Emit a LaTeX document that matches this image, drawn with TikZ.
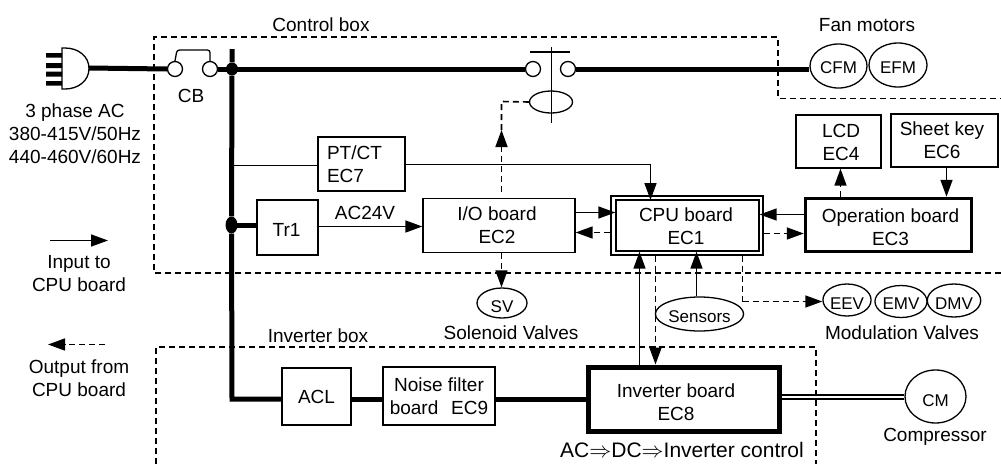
\documentclass[tikz,border=0pt]{standalone}
\usepackage{fontspec}
\setmainfont{Liberation Sans}
\usetikzlibrary{arrows.meta,shapes.geometric,calc}
\newcommand{\lbl}{\fontsize{19}{23}\selectfont}
\newcommand{\sml}{\fontsize{17}{20}\selectfont}
\newcommand{\dn}[1]{\rule{0pt}{\dimexpr 14pt+#1\relax}}
\newcommand{\dnn}[1]{\rule{0pt}{\dimexpr 12.2pt+#1\relax}}
\tikzset{
  boxn/.style={draw,line width=1.3pt,inner sep=0pt,align=center,font=\lbl,minimum width=#1},
  thickbox/.style={line width=#1},
  txt/.style={inner sep=0pt,align=center,font=\lbl},
  oval/.style={draw,ellipse,line width=1.3pt,inner sep=0pt,font=\sml},
  contact/.style={draw,circle,line width=1.3pt,minimum size=15pt,inner sep=0pt,fill=white},
  jdot/.style={draw=none,fill=black,ellipse,inner sep=0pt},
  power/.style={line width=5pt},
  thin line/.style={line width=1.6pt},
  tipp/.style={-{Triangle[length=17pt,width=12pt]}},
  inp/.style={line width=1.6pt,tipp},
  outp/.style={line width=1.6pt,dash pattern=on 6pt off 4pt,tipp},
  ctl/.style={line width=1.6pt,dash pattern=on 6pt off 4pt},
  boxline/.style={line width=1.2pt,dash pattern=on 6pt off 4pt},
}
\begin{document}
\begin{tikzpicture}[x=1pt,y=-1pt]
\useasboundingbox (0,0) rectangle (1001,464);
% enclosures
\draw[boxline] (1001,273) -- (154,273) -- (154,37) -- (778,37) -- (778,98.5) -- (1001,98.5);
\draw[boxline] (156,464) -- (156,347) -- (816,347) -- (816,464);
\node[txt] (tcontrol) at (321,25) {Control box};
\node[txt] (tinverter) at (318,336) {Inverter box};
\node[txt] (tfan) at (867,25) {Fan motors};
% plug
\fill (46,53) rectangle (62,57.5) (46,63) rectangle (62,68) (46,71.5) rectangle (62,76.5) (46,81) rectangle (62,85.5);
\draw[line width=1.3pt] (62,48) -- (65,48) .. controls (78,48) and (89,56) .. (89,68.5) .. controls (89,81) and (78,89) .. (65,89) -- (62,89) -- cycle;
\coordinate (plugtip) at (89,68);
\node[txt] (tplug) at (75,134) {3 phase AC\\380-415V/50Hz\\440-460V/60Hz};
% breaker
\node[contact] (cbl) at (175,69) {};
\node[contact] (cbr) at (210,69) {};
\draw[line width=1.3pt,rounded corners=2.5pt] (cbl.north) -- (177,50) -- (210,50) -- (cbr.north);
\node[txt] (tcb) at (191,96) {CB};
% bus
\node[jdot,minimum width=12pt,minimum height=13pt] (j1) at (232,69) {};
\node[jdot,minimum width=12pt,minimum height=17pt] (j2) at (231.5,225) {};
\coordinate (bustop) at (232,49);
\coordinate (buscorner) at (232,399);
% contactor
\node[contact] (mcl) at (533,69) {};
\node[contact] (mcr) at (568,69) {};
\draw[line width=2.5pt] (530,52) -- (570,52);
\node[draw,ellipse,line width=1.3pt,minimum width=43pt,minimum height=22pt,inner sep=0pt] (coil) at (551,102) {};
\draw[thin line] (551.5,47) -- (551.5,123);
% fans
\node[oval,minimum width=57pt,minimum height=44pt] (cfm) at (838.5,66) {\dnn{2pt}CFM};
\node[oval,minimum width=58pt,minimum height=44pt] (efm) at (898,65) {\dnn{4pt}EFM};
% boxes
\node[boxn=87pt,minimum height=54pt] (ptct) at (361.5,164) {\hspace*{-14pt}PT/CT\\\hspace*{-32pt}EC7};
\node[boxn=61pt,minimum height=55pt] (tr) at (287.5,227.5) {\hspace*{-2pt}\dn{3pt}Tr1};
\node[boxn=152pt,minimum height=54pt] (io) at (499,225.5) {\hspace*{-4pt}I/O board\\\hspace*{-4pt}EC2};
\node[draw,line width=1.4pt,minimum width=152pt,minimum height=59pt,inner sep=0pt] (cpuo) at (687,225.5) {};
\node[boxn=143pt,minimum height=51pt,line width=1.4pt] (cpu) at (687.5,225.5) {\hspace*{-3pt}\dn{1pt}CPU board\\\hspace*{-3pt}EC1};
\node[boxn=166pt,minimum height=53pt,thickbox=3.5pt] (op) at (888.5,225) {\hspace*{4pt}\dn{5pt}Operation board\\\hspace*{4pt}EC3};
\node[boxn=85pt,minimum height=53pt] (lcd) at (838.5,141.5) {\hspace*{5pt}\dn{2pt}LCD\\\hspace*{5pt}EC4};
\node[boxn=107pt,minimum height=53pt] (sheet) at (944.5,140.5) {\hspace*{-5pt}Sheet key\\\hspace*{-5pt}EC6};
\node[boxn=69pt,minimum height=57pt] (acl) at (316.5,396.5) {ACL};
\node[boxn=112pt,minimum height=58pt] (noise) at (439,396) {Noise filter\\board\hspace{0.4em} EC9};
\node[boxn=191pt,minimum height=64pt,thickbox=5pt] (inv) at (683.5,399) {\hspace*{-15pt}\dn{6pt}Inverter board\\\hspace*{-15pt}EC8};
\node[txt,font=\fontsize{21}{25}\selectfont] (tac) at (682,450) {AC\scalebox{1.06}{$\Rightarrow$}DC\scalebox{1.06}{$\Rightarrow$}Inverter control};
\node[txt] (tac24) at (365,213) {AC24V};
% valves and sensors
\node[oval,minimum width=50pt,minimum height=30pt] (sv) at (502,303) {\dnn{7pt}SV};
\node[txt] (tsv) at (511,333) {Solenoid Valves};
\node[oval,minimum width=77pt,minimum height=34pt] (sens) at (699.5,314) {\dnn{4pt}Sensors};
\node[oval,minimum width=46pt,minimum height=32pt] (eev) at (847,300) {\dnn{6pt}EEV};
\node[oval,minimum width=46pt,minimum height=32pt] (emv) at (901,301.5) {\dnn{3pt}EMV};
\node[oval,minimum width=46pt,minimum height=33pt] (dmv) at (954,300.5) {\dnn{5pt}DMV};
\node[txt] (tmod) at (902,333) {Modulation Valves};
\node[oval,minimum width=61pt,minimum height=53pt] (cm) at (935.5,396.5) {\dnn{7pt}CM};
\node[txt] (tcm) at (935,437) {Compressor};
% power lines
\draw[power] (plugtip) -- (cbl.west);
\draw[power] (cbr.east) -- (j1.east) -- (mcl.west);
\draw[power] (bustop) -- (j1) -- (j2) -- (buscorner) -- (acl.west |- buscorner) ;
\draw[power] (j2.center) -- (tr.west |- j2.center);
\draw[power] (mcr.east) -- (cfm.west |- mcr.east);
\draw[power] (acl.east |- buscorner) -- (noise.west |- buscorner);
\draw[power] (noise.east |- buscorner) -- (inv.west |- buscorner);
% thin connections
\draw[thin line] (232,165.5) -- (ptct.west |- 232,165.5);
\draw[inp] (tr.east |- 0,226.5) -- (io.west |- 0,226.5);
\draw[inp] (ptct.east |- 0,164.5) -- (650.5,164.5) -- (650.5,200);
\draw[inp] (io.east |- 0,212.5) -- (cpu.west |- 0,212.5);
\draw[outp] (cpuo.west |- 0,232.5) -- (io.east |- 0,232.5);
\draw[inp] (op.west |- 0,214.5) -- (cpu.east |- 0,214.5);
\draw[outp] (cpuo.east |- 0,233.5) -- (op.west |- 0,233.5);
\draw[outp] (op.north -| 840.5,0) -- (lcd.south -| 840.5,0);
\draw[inp] (sheet.south -| 946.5,0) -- (op.north -| 946.5,0);
\draw[ctl] (coil.west) -- (501.5,101.5) -- (501.5,132);
\draw[outp] (501.5,192) -- (501.5,130);
\draw[outp] (io.south -| 501.5,0) -- (sv.north -| 501.5,0);
\draw[inp] (inv.north -| 639.5,0) -- (cpu.south -| 639.5,0);
\draw[outp] (cpuo.south -| 655.5,0) -- (inv.north -| 655.5,0);
\draw[inp] (sens.north -| 696.5,0) -- (cpu.south -| 696.5,0);
\draw[ctl] (cpuo.south -| 742.5,0) -- (742.5,301.5);
\draw[outp] (742.5,301.5) -- (eev.west |- 0,301.5);
\draw[line width=1.1pt] (inv.east |- 0,395) -- (cm.west |- 0,395);
\draw[line width=1.1pt] (inv.east |- 0,399) -- (cm.west |- 0,399);
% legend
\coordinate (li1) at (50,240.5); \coordinate (li2) at (108,240.5);
\coordinate (lo1) at (105,344.5); \coordinate (lo2) at (48,344.5);
\draw[inp] (li1) -- (li2);
\draw[outp] (lo1) -- (lo2);
\node[txt] (tin) at (79,274) {Input to\\CPU board};
\node[txt] (tout) at (79,378) {Output from\\CPU board};
\end{tikzpicture}
\end{document}
